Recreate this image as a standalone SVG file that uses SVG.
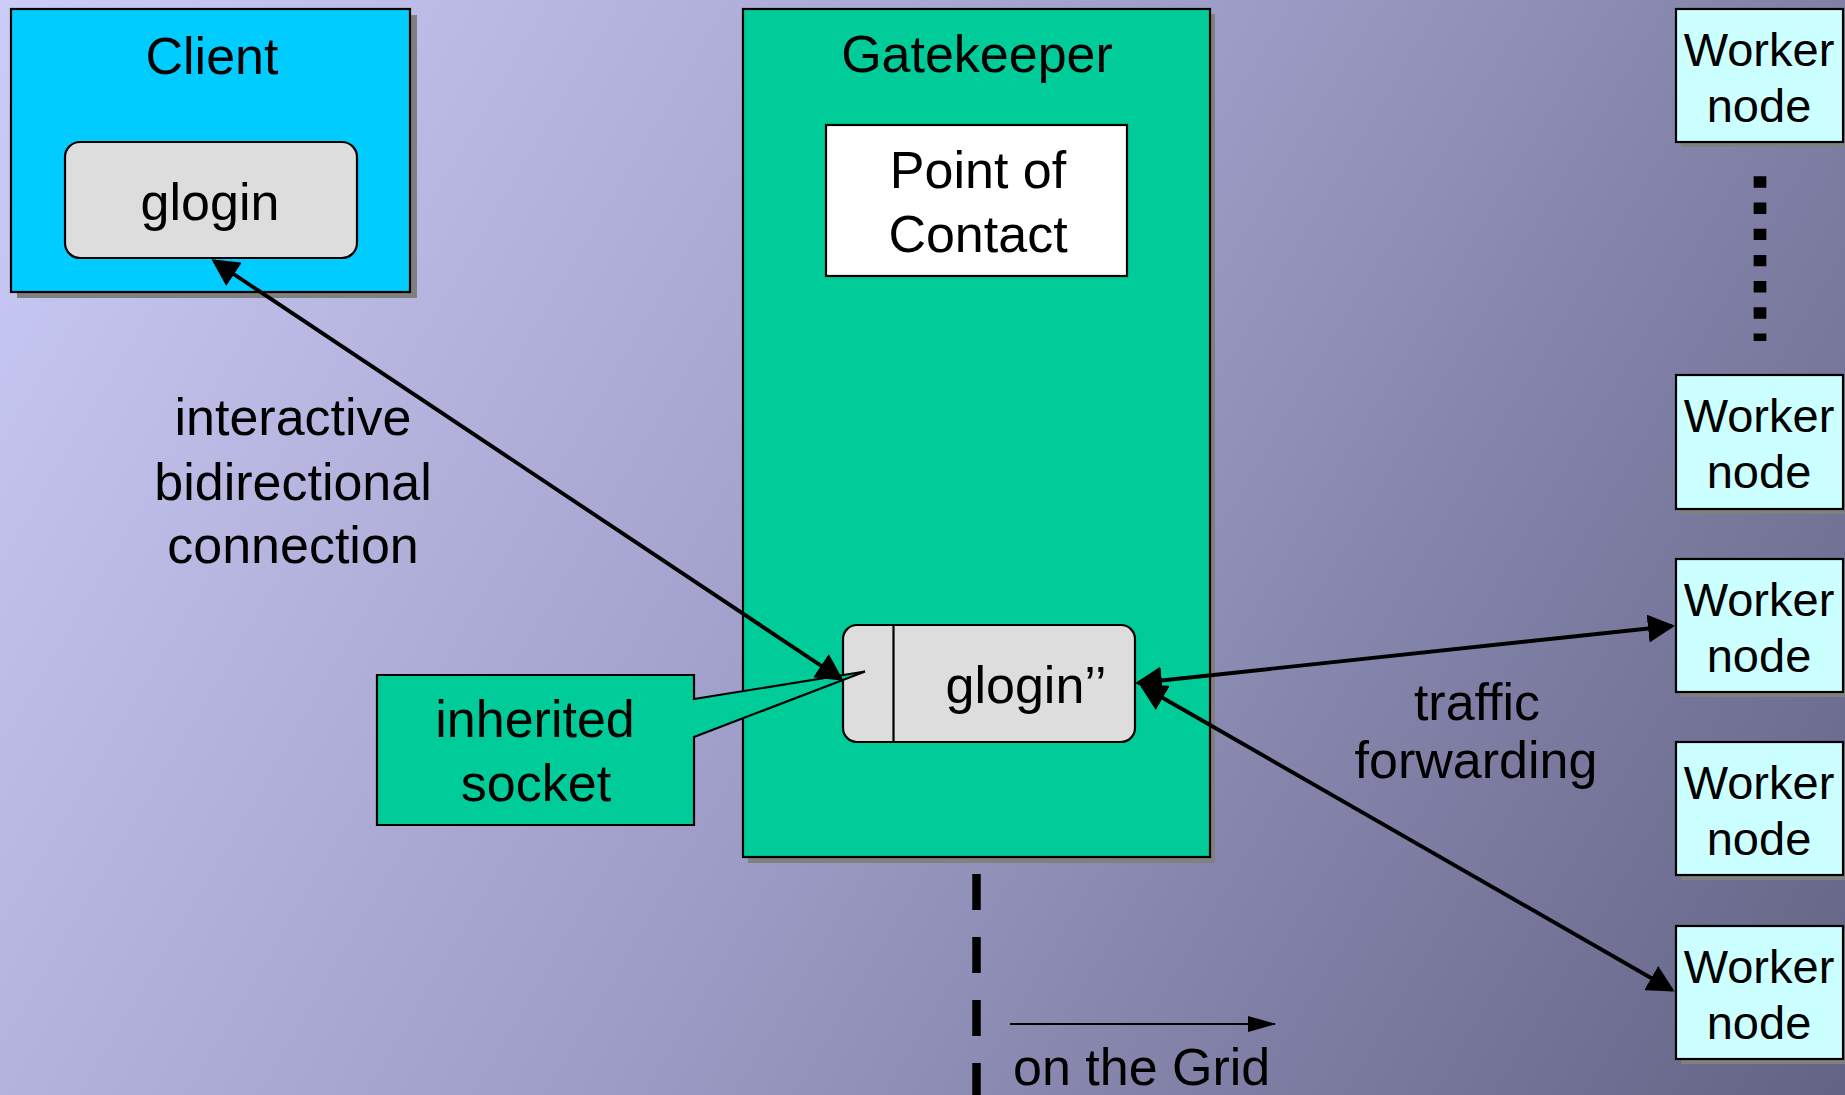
<svg xmlns="http://www.w3.org/2000/svg" width="1845" height="1095" viewBox="0 0 1845 1095">
<style>
text{font-family:"Liberation Sans",Arial,sans-serif;font-size:52px;fill:#000;text-anchor:middle}
.box{stroke:#000;stroke-width:2.2}
.shadow{fill:#808080}
.worker{fill:#CCFFFF;stroke:#000;stroke-width:2.2}
.wt{font-size:47px}
.conn{fill:none;stroke:#000;stroke-width:3.9}
</style>
<defs>
<linearGradient id="bg" gradientUnits="userSpaceOnUse" x1="0" y1="0" x2="1845" y2="1095">
<stop offset="0" stop-color="#CCCCF8"/>
<stop offset="0.5" stop-color="#9C9CC6"/>
<stop offset="1" stop-color="#636385"/>
</linearGradient>
<marker id="ah" markerUnits="userSpaceOnUse" markerWidth="28" markerHeight="28" refX="24" refY="14" orient="auto-start-reverse" viewBox="0 0 28 28">
<path d="M0,0 L27,14 L0,28 z" fill="#000"/>
</marker>
<marker id="ahs" markerUnits="userSpaceOnUse" markerWidth="28" markerHeight="16" refX="27" refY="8" orient="auto" viewBox="0 0 28 16">
<path d="M0,0 L28,8 L0,16 z" fill="#000"/>
</marker>
</defs>
<rect width="1845" height="1095" fill="url(#bg)"/>

<g id="client">
<rect class="shadow" x="17" y="15" width="400" height="283"/>
<rect class="box" x="11" y="9" width="399" height="283" fill="#00CCFF"/>
<text x="212" y="74">Client</text>
</g>
<g id="glogin-client">
<rect class="box" x="65" y="142" width="292" height="116" rx="15" fill="#DDDDDD"/>
<text x="210" y="220">glogin</text>
</g>

<g id="gatekeeper">
<rect class="shadow" x="748" y="14" width="467" height="849"/>
<rect class="box" x="743" y="9" width="467" height="848" fill="#00CC99"/>
<text x="977" y="72">Gatekeeper</text>
</g>
<g id="point-of-contact">
<rect class="box" x="826" y="125" width="301" height="151" fill="#FFFFFF"/>
<text x="978" y="188">Point of</text>
<text x="978" y="252">Contact</text>
</g>
<g id="glogin-gatekeeper">
<rect class="box" x="843" y="625" width="292" height="117" rx="14" fill="#DDDDDD"/>
<line x1="893.5" y1="625" x2="893.5" y2="742" stroke="#000" stroke-width="2.2"/>
<text x="1026" y="703">glogin’’</text>
</g>

<g id="inherited-socket">
<polygon class="box" points="377,675 694,675 694,699 865,671.5 694,737 694,825 377,825" fill="#00CC99"/>
<text x="535" y="737">inherited</text>
<text x="536" y="801">socket</text>
</g>

<g id="worker1">
<rect class="shadow" x="1681" y="14" width="167" height="133"/>
<rect class="worker" x="1676" y="9" width="167" height="133"/>
<text class="wt" x="1759" y="65.5">Worker</text>
<text class="wt" x="1759" y="121.5">node</text>
</g>
<g id="worker2">
<rect class="shadow" x="1681" y="380" width="167" height="134"/>
<rect class="worker" x="1676" y="375" width="167" height="134"/>
<text class="wt" x="1759" y="431.5">Worker</text>
<text class="wt" x="1759" y="487.5">node</text>
</g>
<g id="worker3">
<rect class="shadow" x="1681" y="564" width="167" height="133"/>
<rect class="worker" x="1676" y="559" width="167" height="133"/>
<text class="wt" x="1759" y="615.5">Worker</text>
<text class="wt" x="1759" y="671.5">node</text>
</g>
<g id="worker4">
<rect class="shadow" x="1681" y="747" width="167" height="133"/>
<rect class="worker" x="1676" y="742" width="167" height="133"/>
<text class="wt" x="1759" y="798.5">Worker</text>
<text class="wt" x="1759" y="854.5">node</text>
</g>
<g id="worker5">
<rect class="shadow" x="1681" y="931" width="167" height="133"/>
<rect class="worker" x="1676" y="926" width="167" height="133"/>
<text class="wt" x="1759" y="982.5">Worker</text>
<text class="wt" x="1759" y="1038.5">node</text>
</g>

<g id="labels">
<text x="293" y="435">interactive</text>
<text x="293" y="500">bidirectional</text>
<text x="293" y="563">connection</text>
<text x="1477" y="720">traffic</text>
<text x="1476" y="778">forwarding</text>
<text x="1013" y="1085" style="text-anchor:start">on the Grid</text>
</g>

<g id="connectors">
<line class="conn" x1="214" y1="261" x2="841" y2="679" marker-start="url(#ah)" marker-end="url(#ah)"/>
<line class="conn" x1="1138" y1="683" x2="1672" y2="626" marker-start="url(#ah)" marker-end="url(#ah)"/>
<line class="conn" x1="1142" y1="686" x2="1672" y2="990" marker-start="url(#ah)" marker-end="url(#ah)"/>
<line x1="1760" y1="176.3" x2="1760" y2="341" stroke="#000" stroke-width="12.7" stroke-dasharray="11.4 14.8"/>
<line x1="976.5" y1="874" x2="976.5" y2="1095" stroke="#000" stroke-width="8.5" stroke-dasharray="36 27"/>
<line x1="1010" y1="1024" x2="1275" y2="1024" stroke="#000" stroke-width="2.2" marker-end="url(#ahs)"/>
</g>
</svg>
